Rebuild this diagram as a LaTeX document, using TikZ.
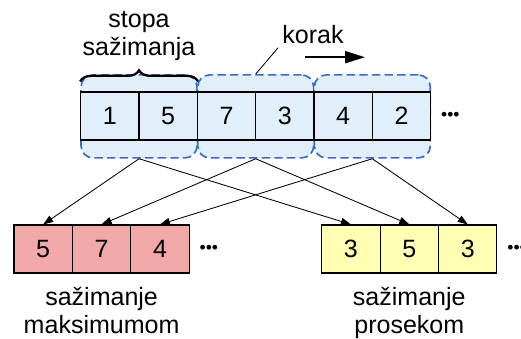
\documentclass[tikz,border=0pt]{standalone}
\usepackage{fontspec}
\setmainfont{Liberation Sans}
\usetikzlibrary{arrows.meta,positioning,decorations.pathreplacing}

\definecolor{cellblue}{HTML}{E1EFFB}
\definecolor{winblue}{HTML}{3A6BC9}
\definecolor{maxred}{HTML}{F0A8A8}
\definecolor{avgyellow}{HTML}{FFFFB3}

\begin{document}
\begin{tikzpicture}[font=\fontsize{17.8}{20}\selectfont,
    >={Triangle[length=0.25cm,width=0.18cm]},
    cell/.style={draw, line width=0.8pt, minimum width=1.46cm, minimum height=1.2cm, inner sep=0pt},
    window/.style={draw=winblue, fill=cellblue, dash pattern=on 6pt off 3pt, line width=1.2pt,
      rounded corners=0.3cm, minimum width=2.9cm, minimum height=2.075cm, inner sep=0pt},
    dots/.style={font=\fontsize{12.5}{12.5}\selectfont, inner sep=0pt},
    caption/.style={align=center, inner sep=0pt}]
  \useasboundingbox (0,0) rectangle (13.025,8.45);

  %% Pooling windows (behind the input row)
  \foreach \x [count=\g] in {3.476,6.392,9.308}
    \node[window] (g\g) at (\x,5.54) {};

  %% Input row
  \foreach \v [count=\i] in {1,5,7,3,4,2}
    \node[cell, fill=cellblue] (t\i) at ({2.747+1.458*(\i-1)},5.55) {\v};
  \node[dots, right=0.24cm of t6] (tdots) {\textbullet\textbullet\textbullet};

  %% Window size brace
  \draw[decorate, decoration={brace, amplitude=0.28cm}, line width=1.6pt]
    ([yshift=0.25cm]t1.north west) -- ([yshift=0.25cm]t2.north east)
    node[caption, midway, above=0.49cm] (width) {stopa\\sažimanja};

  %% Stride label and direction
  \node[inner sep=0.1cm, anchor=base] (korak) at (7.825,7.37) {korak};
  \draw[line width=0.6pt] (korak.south west) -- (g2.north);
  \coordinate (kfrom) at (7.625,7.02);
  \coordinate (kto)   at (9.125,7.02);
  \draw[-{Triangle[length=0.5cm,width=0.3cm]}, line width=1.4pt] (kfrom) -- (kto);

  %% Output rows: max pooling (left), average pooling (right)
  \foreach \v [count=\i] in {5,7,4}
    \node[cell, fill=maxred] (m\i) at ({1.08+1.46*(\i-1)},2.225) {\v};
  \foreach \v [count=\i] in {3,5,3}
    \node[cell, fill=avgyellow] (a\i) at ({8.7725+1.46*(\i-1)},2.225) {\v};
  \node[dots, right=0.24cm of m3] (mdots) {\textbullet\textbullet\textbullet};
  \node[dots, right=0.24cm of a3] (adots) {\textbullet\textbullet\textbullet};

  \node[caption, below=0.34cm of m2] (maxlbl) {sažimanje\\maksimumom};
  \node[caption, below=0.34cm of a2] (avglbl) {sažimanje\\prosekom};

  %% Each window feeds one cell of each output
  \foreach \g in {1,2,3} {
    \draw[->, line width=0.6pt] (g\g.south) -- (m\g.north);
    \draw[->, line width=0.6pt] (g\g.south) -- (a\g.north);
  }
\end{tikzpicture}
\end{document}
